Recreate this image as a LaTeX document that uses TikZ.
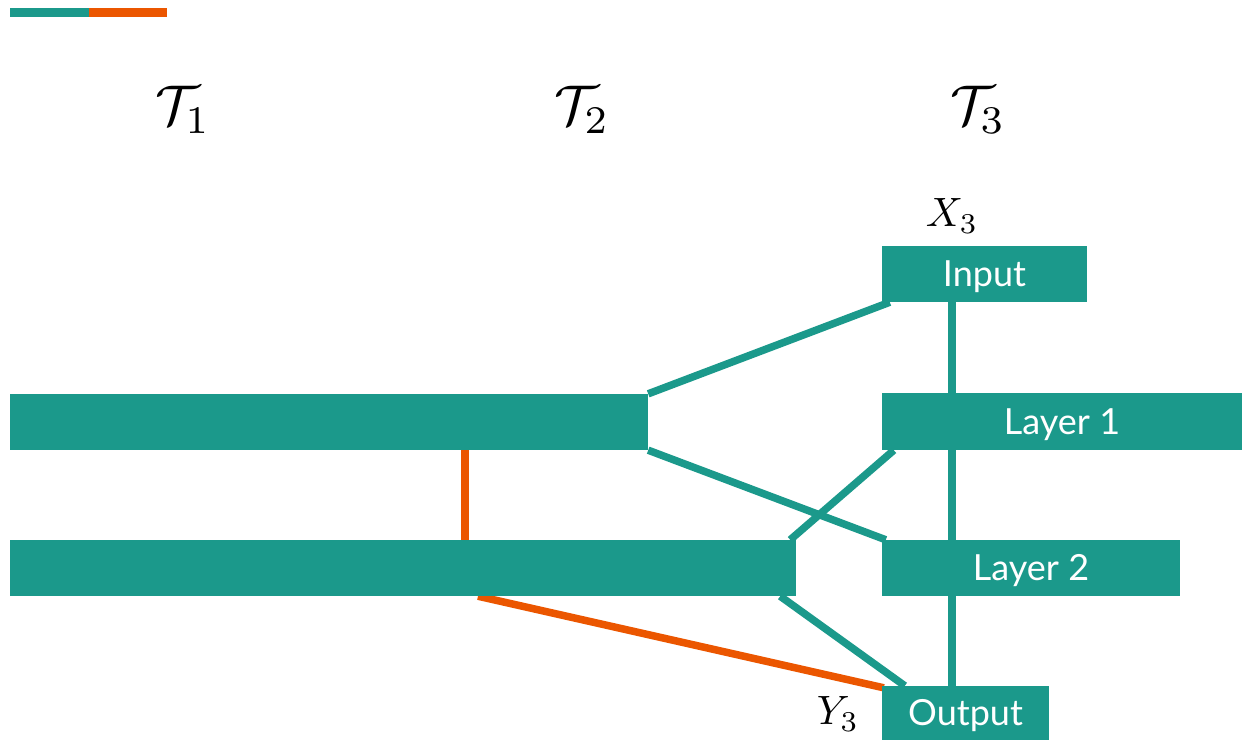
\documentclass[tikz,border=0pt]{standalone}
\usepackage{fontspec}
\usepackage{graphicx}
\usetikzlibrary{backgrounds}
\newfontfamily\lato{Lato}
\definecolor{teal1}{RGB}{27,153,139}
\definecolor{orange1}{RGB}{235,86,0}
\newcommand{\scaledmath}[2]{\scalebox{#1}{$#2$}}
\begin{document}
\begin{tikzpicture}[x=1pt,y=-1pt,
  box/.style={fill=teal1,inner sep=0pt,text=white,text height=25pt,text depth=-5pt,font=\lato\fontsize{36}{40}\selectfont},
  tline/.style={draw=teal1,line width=7.5pt},
  oline/.style={draw=orange1,line width=7.5pt},
  mlabel/.style={inner sep=0pt}]
\useasboundingbox (0,0) rectangle (1242,740);
% legend
\coordinate (la) at (10,12.5);
\coordinate (lb) at (89,12.5);
\coordinate (lc) at (167,12.5);
\draw[teal1,line width=9pt] (la) -- (lb);
\draw[orange1,line width=9pt] (lb) -- (lc);
% titles
\node[mlabel] (t1) at (183,110) {\scaledmath{5.6}{\mathcal{T}_1}};
\node[mlabel] (t2) at (582,110) {\scaledmath{5.6}{\mathcal{T}_2}};
\node[mlabel] (t3) at (978,110) {\scaledmath{5.6}{\mathcal{T}_3}};
% boxes
\node[box,minimum width=205pt,minimum height=56pt] (input) at (984.5,274) {Input};
\node[box,minimum width=360pt,minimum height=57pt] (l1) at (1062,421.5) {Layer 1};
\node[box,minimum width=298pt,minimum height=56pt] (l2) at (1031,568) {Layer 2};
\node[box,minimum width=167pt,minimum height=54pt] (out) at (965.5,713) {Output};
\node[box,minimum width=638pt,minimum height=56pt] (bar1) at (329,422) {};
\node[box,minimum width=786pt,minimum height=56pt] (bar2) at (403,568) {};
% labels
\node[mlabel] (x3) at (952,216) {\scaledmath{4.1}{X_3}};
\node[mlabel] (y3) at (838,714) {\scaledmath{4.1}{Y_3}};
% connectors
\begin{scope}[on background layer]
\coordinate (vx) at (952,0);
\draw[tline] (input.south -| vx) -- (out.north -| vx);
\draw[tline] (bar1.north east) -- ([xshift=8pt]input.south west);
\draw[tline] (bar1.south east) -- ([xshift=4pt]l2.north west);
\draw[tline] ([xshift=-6pt]bar2.north east) -- ([xshift=12pt]l1.south west);
\draw[tline] ([xshift=-16pt]bar2.south east) -- ([xshift=23pt]out.north west);
\coordinate (ov) at (465,0);
\draw[oline] (bar1.south -| ov) -- (bar2.north -| ov);
\coordinate (od) at (478,0);
\draw[oline] (bar2.south -| od) -- ([xshift=2pt,yshift=-2pt]out.north west);
\end{scope}
\end{tikzpicture}
\end{document}
